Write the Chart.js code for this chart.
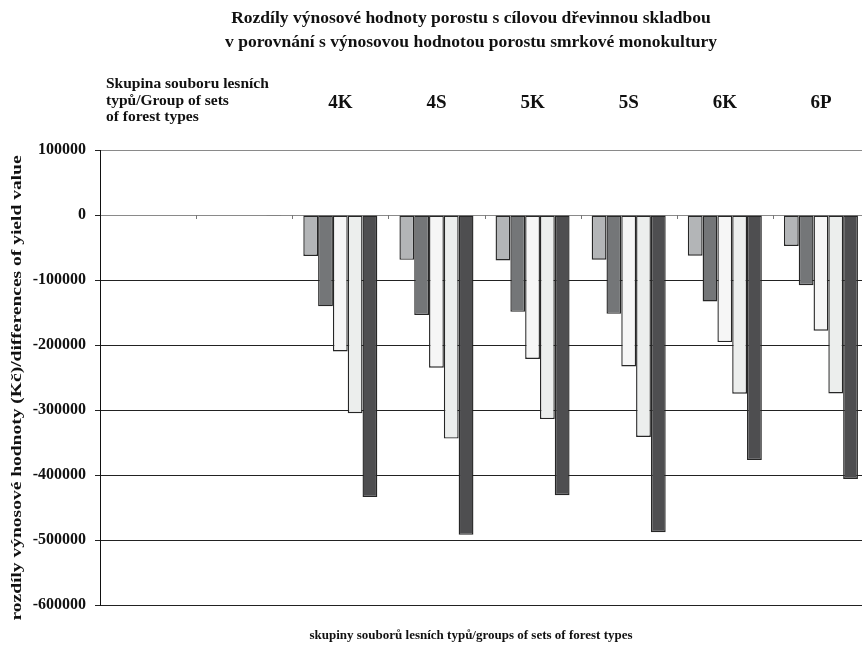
<!DOCTYPE html>
<html>
<head>
<meta charset="utf-8">
<script src="https://cdn.jsdelivr.net/npm/chart.js@4/dist/chart.umd.min.js"></script>
<style>
  html, body { margin: 0; padding: 0; background: #fff; overflow: hidden; }
  #wrap { width: 872px; height: 649px; }
</style>
</head>
<body>
<div id="wrap"><canvas id="myChart"></canvas></div>
<script>
// groups of sets of forest types; the first two columns hold the header text
const categories = ['', '', '4K', '4S', '5K', '5S', '6K', '6P'];

// differences of yield value (Kč), one array per bar shade
const ser1 = [null, null, -63000, -69000, -70000, -68700, -62500, -47700];
const ser2 = [null, null, -140500, -154000, -149000, -152000, -133000, -108000];
const ser3 = [null, null, -210000, -235000, -221500, -233000, -195500, -178000];
const ser4 = [null, null, -305000, -344000, -314000, -341500, -275000, -274500];
const ser5 = [null, -1000, -434000, -492000, -431000, -488000, -377000, -406000];

const yTicks = [100000, 0, -100000, -200000, -300000, -400000, -500000, -600000];

const titleLines = [
  'Rozdíly výnosové hodnoty porostu s cílovou dřevinnou skladbou',
  'v porovnání s výnosovou hodnotou porostu smrkové monokultury'
];
const headerLines = ['Skupina souboru lesních', 'typů/Group of sets', 'of forest types'];
const xTitle = 'skupiny souborů lesních typů/groups of sets of forest types';
const yTitle = 'rozdíly výnosové hodnoty (Kč)/differences of yield value';

const serif = '"Liberation Serif", "Times New Roman", serif';
const colors = ['#b3b5b7', '#747678', '#f6f6f6', '#eceeed', '#4e4e50'];
const series = [ser1, ser2, ser3, ser4, ser5];

// titles, header cell, vertical axis caption and the ticks on the zero line
const extras = {
  id: 'extras',
  afterDraw(chart) {
    const c = chart.ctx;
    const area = chart.chartArea;
    const y = chart.scales.y;
    c.save();

    const y0 = y.getPixelForValue(0);
    const w = (area.right - area.left) / categories.length;
    c.strokeStyle = '#777';
    c.lineWidth = 1;
    c.beginPath();
    for (let i = 1; i < categories.length; i++) {
      const px = Math.round(area.left + i * w) + 0.5;
      c.moveTo(px, y0);
      c.lineTo(px, y0 + 4);
    }
    c.stroke();

    c.fillStyle = '#111';
    c.textBaseline = 'middle';
    c.textAlign = 'center';
    c.font = 'bold 17.5px ' + serif;
    c.fillText(titleLines[0], 471, 18);
    c.fillText(titleLines[1], 471, 42);

    c.font = 'bold 13px ' + serif;
    c.fillText(xTitle, 471, 636);

    // the axis caption is set wide, stretched along its length
    c.save();
    c.translate(17, 388);
    c.rotate(-Math.PI / 2);
    c.scale(1.3, 1);
    c.font = 'bold 15px ' + serif;
    c.fillText(yTitle, 0, 0);
    c.restore();

    c.textAlign = 'left';
    c.font = 'bold 15.5px ' + serif;
    headerLines.forEach((t, i) => c.fillText(t, area.left + 6, 84 + i * 16.5));
    c.restore();
  }
};

const cfg = {
  type: 'bar',
  data: {
    labels: categories,
    datasets: series.map((d, i) => ({
      label: 'řada ' + (i + 1),
      data: d,
      backgroundColor: colors[i],
      borderColor: '#262626',
      borderWidth: 1.4,
      borderSkipped: false
    }))
  },
  options: {
    responsive: true,
    maintainAspectRatio: false,
    animation: false,
    layout: { padding: { left: 0, top: 0, right: 3, bottom: 44 } },
    datasets: { bar: { categoryPercentage: 0.77, barPercentage: 1.0 } },
    plugins: {
      legend: { display: false },
      tooltip: { enabled: false }
    },
    scales: {
      x: {
        position: 'top',
        afterFit(s) { s.height = 150; },
        grid: { display: false, drawTicks: false },
        border: { display: false },
        ticks: {
          padding: 36,
          color: '#111',
          font: { family: serif, size: 19, weight: 'bold' }
        }
      },
      y: {
        min: -600000,
        max: 100000,
        afterFit(s) { s.width = 100; },
        afterBuildTicks(s) { s.ticks = yTicks.map(v => ({ value: v })); },
        ticks: {
          padding: 9,
          color: '#111',
          font: { family: serif, size: 16, weight: 'bold' },
          callback: v => String(v)
        },
        grid: {
          color: ctx => (ctx.tick && (ctx.tick.value === 0 || ctx.tick.value === 100000)) ? '#8a8a8a' : '#222',
          tickColor: '#222',
          tickLength: 5,
          lineWidth: 1
        },
        border: { display: true, color: '#111', width: 1 }
      }
    }
  },
  plugins: [extras]
};

const ctx = document.getElementById('myChart');
let cht = new Chart(ctx, cfg);
</script>
</body>
</html>
